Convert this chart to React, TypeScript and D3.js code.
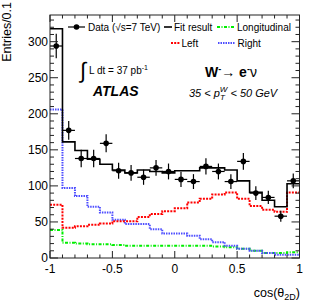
import * as d3 from "d3";

// bin lower edges of cos(theta_2D), width 0.1
const binLo = [-1, -0.9, -0.8, -0.7, -0.6, -0.5, -0.4, -0.3, -0.2, -0.1, 0, 0.1, 0.2, 0.3, 0.4, 0.5, 0.6, 0.7, 0.8, 0.9];
const binWidth = 0.1;

const dataCounts = [294, 177, 138, 138, 159, 121, 118, 112, 125, 120, 109, 106, 127, 120, 106, 134, 90, 84, 58, 107];
const dataErr = [17, 13, 12, 12, 12.5, 11, 11, 10.5, 11, 11, 10.5, 10.3, 11.3, 11, 10.3, 11.6, 9.5, 9.2, 7.6, 10.3];
const fitResult = [318, 161, 149, 137, 130, 122, 118, 122, 120, 118, 121, 121, 125, 125, 122, 107, 91, 80, 71, 103];
const leftPol = [74, 42, 44, 46, 48, 51, 51, 57, 61, 65, 69, 77, 82, 88, 91, 82, 72, 67, 64, 91];
const rightPol = [206, 97, 86, 71, 63, 53, 47, 47, 40, 34, 34, 31, 26, 22, 17, 13, 10, 7, 4.5, 4.5];
const longPol = [39, 21, 20, 19, 19, 18, 17, 17, 17, 17, 17, 17, 17, 16, 15, 13, 10, 7, 7, 8];

const yTicks = [0, 50, 100, 150, 200, 250, 300];
const xTicks = [-1, -0.5, 0, 0.5, 1];
const xTickLabels = ["-1", "-0.5", "0", "0.5", "1"];

const font = "'Liberation Sans', Arial, Helvetica, sans-serif";

export default function App() {
  const width = 316;
  const height = 308;
  const x = d3.scaleLinear().domain([-1, 1]).range([50, 299.5]);
  const y = d3.scaleLinear().domain([0, 337]).range([258, 15]);
  const [x0, x1] = x.range();
  const [y0, y1] = y.range();

  const step = (vals: number[]) =>
    d3
      .line<[number, number]>()
      .x(d => x(d[0]))
      .y(d => y(d[1]))
      .curve(d3.curveStepAfter)([
      ...binLo.map((b, i) => [b, vals[i]] as [number, number]),
      [1, vals[vals.length - 1]],
    ]) ?? undefined;

  const yMinor = d3.range(0, 337, 10);
  const xMinor = [...binLo, 1];

  return (
    <svg
      width={width}
      height={height}
      style={{ position: "absolute", left: 0, top: 0, background: "white" }}
      fontFamily={font}
    >
      {/* histograms */}
      <path d={step(longPol)} fill="none" stroke="#00ee00" strokeWidth={2} strokeDasharray="3,1.5,1,1.5" />
      <path d={step(rightPol)} fill="none" stroke="#4d4dff" strokeWidth={2} strokeDasharray="1.5,1" />
      <path d={step(leftPol)} fill="none" stroke="#ff0000" strokeWidth={2} strokeDasharray="2,1.2" />
      <path d={step(fitResult)} fill="none" stroke="#000" strokeWidth={1.6} />

      {/* data points */}
      <g stroke="#000" strokeWidth={1.2}>
        {dataCounts.map((v, i) => {
          const cx = x(binLo[i] + binWidth / 2);
          return (
            <g key={i}>
              <line x1={x(binLo[i])} x2={x(binLo[i] + binWidth)} y1={y(v)} y2={y(v)} />
              <line x1={cx} x2={cx} y1={y(v - dataErr[i])} y2={y(v + dataErr[i])} />
              <circle cx={cx} cy={y(v)} r={2.8} fill="#000" stroke="none" />
            </g>
          );
        })}
      </g>

      {/* frame and ticks */}
      <g stroke="#222" strokeWidth={1} fill="none">
        <rect x={x0} y={y1} width={x1 - x0} height={y0 - y1} />
        {yMinor.map(t => {
          const len = t % 50 === 0 ? 8 : 4;
          return (
            <g key={"y" + t}>
              <line x1={x0} x2={x0 + len} y1={y(t)} y2={y(t)} />
              <line x1={x1} x2={x1 - len} y1={y(t)} y2={y(t)} />
            </g>
          );
        })}
        {xMinor.map((t, i) => {
          const len = i % 5 === 0 ? 7 : 3.5;
          return (
            <g key={"x" + i}>
              <line x1={x(t)} x2={x(t)} y1={y0} y2={y0 - len} />
              <line x1={x(t)} x2={x(t)} y1={y1} y2={y1 + len} />
            </g>
          );
        })}
      </g>

      {/* tick labels */}
      <g fontSize={12} fill="#000">
        {yTicks.map(t => (
          <text key={t} x={x0 - 2} y={y(t)} dy="0.33em" textAnchor="end">
            {t}
          </text>
        ))}
        {xTicks.map((t, i) => (
          <text key={t} x={x(t)} y={y0 + 15} textAnchor="middle">
            {xTickLabels[i]}
          </text>
        ))}
      </g>

      {/* axis titles */}
      <text x={300} y={297} textAnchor="end" fontSize={12.5}>
        cos(θ<tspan dy="3" fontSize={9}>2D</tspan>
        <tspan dy="-3">)</tspan>
      </text>
      <text transform="translate(11,2) rotate(-90)" textAnchor="end" fontSize={12.5}>
        Entries/0.1
      </text>

      {/* legend */}
      <g fontSize={10}>
        <line x1={68} x2={85} y1={27} y2={27} stroke="#000" strokeWidth={1.2} />
        <circle cx={76.5} cy={27} r={2.8} fill="#000" />
        <text x={88} y={30.5}>Data (√s=7 TeV)</text>

        <line x1={164} x2={172} y1={27} y2={27} stroke="#000" strokeWidth={1.6} />
        <text x={174} y={30.5}>Fit result</text>
        <line x1={217} x2={235} y1={27} y2={27} stroke="#00ee00" strokeWidth={2} strokeDasharray="3,1.5,1,1.5" />
        <text x={237} y={30.5}>Longitudinal</text>

        <line x1={171} x2={180} y1={43} y2={43} stroke="#ff0000" strokeWidth={2} strokeDasharray="2,1.2" />
        <text x={181.5} y={46.5}>Left</text>
        <line x1={218} x2={235} y1={43} y2={43} stroke="#4d4dff" strokeWidth={2} strokeDasharray="1.5,1" />
        <text x={237.5} y={46.5}>Right</text>
      </g>

      {/* labels */}
      <text x={80} y={78} fontSize={22} fontWeight={300}>∫</text>
      <text x={89} y={74} fontSize={10}>
        L dt = 37 pb<tspan dy="-4" fontSize={7}>-1</tspan>
      </text>
      <text x={93} y={96} fontSize={14} fontWeight="bold" fontStyle="italic">ATLAS</text>

      <text x={205} y={77} fontSize={14} fontWeight="bold">
        W<tspan dy="-5" fontSize={9}>-</tspan>
        <tspan dy="5" fontWeight="normal">→ </tspan>e<tspan dy="-5" fontSize={9}>-</tspan>
        <tspan dy="5" fontWeight="normal">ν</tspan>
      </text>
      <text x={189} y={97} fontSize={11} fontStyle="italic">
        35 &lt; p<tspan dy="3" fontSize={8}>T</tspan>
        <tspan dy="-8" dx="-5" fontSize={8}>W</tspan>
        <tspan dy="5"> &lt; 50 GeV</tspan>
      </text>
    </svg>
  );
}
